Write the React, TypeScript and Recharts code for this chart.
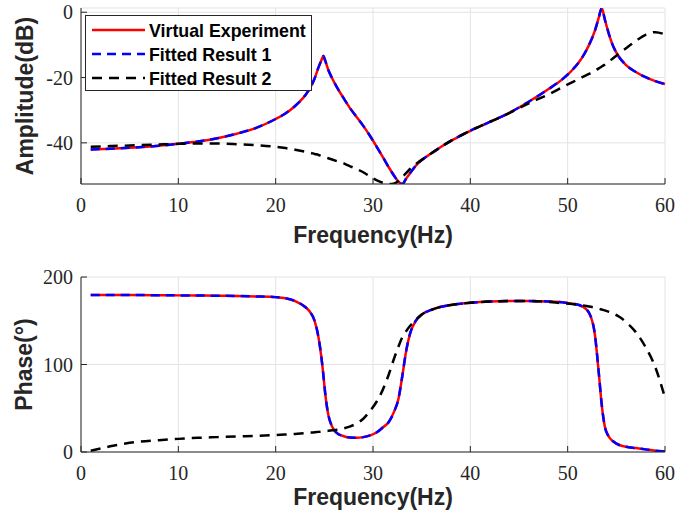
import React from "react";
import { LineChart, Line, XAxis, YAxis, CartesianGrid } from "recharts";

// frequency grid (Hz), denser around the resonances
const freq = [
  1, 3, 5, 8, 10, 12, 14, 16, 18, 20,
  21, 22, 23, 23.5, 24, 24.4, 24.7, 24.9, 25.1, 25.4,
  25.8, 26.3, 27, 27.6, 28.3, 29, 29.7, 30.4, 31, 31.6,
  32.2, 32.6, 33, 33.4, 33.8, 34.4, 35, 36, 37, 38,
  40, 42, 44, 46, 48, 49.5, 50.5, 51.5, 52.2, 52.8,
  53.2, 53.5, 53.8, 54.2, 54.7, 55.3, 56, 57, 58, 59,
  60,
];

// amplitude (dB)
const ampVirtual = [
  -42.0, -41.8, -41.5, -40.9, -40.3, -39.6, -38.6, -37.2, -35.4, -32.7,
  -31.0, -28.7, -25.6, -23.4, -20.3, -16.9, -14.7, -13.4, -14.9, -17.6,
  -20.2, -23.0, -26.4, -29.2, -32.0, -34.8, -37.9, -41.3, -44.3, -47.4,
  -50.2, -51.8, -52.6, -51.0, -49.3, -47.0, -45.3, -43.2, -41.2, -39.4,
  -36.3, -33.6, -30.8, -27.4, -23.6, -20.4, -17.6, -13.8, -10.0, -5.6,
  -1.6, 1.3, -2.0, -6.3, -10.6, -13.8, -16.2, -18.3, -19.9, -21.1,
  -22.0,
];
const ampFit1 = [
  -42.0, -41.8, -41.5, -40.9, -40.3, -39.6, -38.6, -37.2, -35.4, -32.7,
  -31.0, -28.7, -25.6, -23.4, -20.3, -16.9, -14.7, -13.4, -14.9, -17.6,
  -20.2, -23.0, -26.4, -29.2, -32.0, -34.8, -37.9, -41.3, -44.3, -47.4,
  -50.2, -51.8, -52.6, -51.0, -49.3, -47.0, -45.3, -43.2, -41.2, -39.4,
  -36.3, -33.6, -30.8, -27.4, -23.6, -20.4, -17.6, -13.8, -10.0, -5.6,
  -1.6, 1.3, -2.0, -6.3, -10.6, -13.8, -16.2, -18.3, -19.9, -21.1,
  -22.0,
];
const ampFit2 = [
  -41.2, -41.0, -40.8, -40.5, -40.3, -40.2, -40.2, -40.4, -40.7, -41.2,
  -41.6, -42.1, -42.7, -43.0, -43.4, -43.7, -44.0, -44.2, -44.4, -44.7,
  -45.1, -45.6, -46.3, -47.1, -48.0, -49.0, -50.3, -51.5, -52.2, -52.6,
  -52.4, -51.7, -50.5, -49.3, -48.0, -46.5, -45.2, -43.2, -41.2, -39.4,
  -36.3, -33.6, -30.9, -27.9, -25.2, -22.9, -21.4, -19.9, -18.9, -17.9,
  -17.2, -16.6, -16.1, -15.2, -14.0, -12.6, -11.0, -8.8, -6.9, -6.1,
  -6.8,
];

// phase (deg)
const phaseVirtual = [
  179.5, 179.5, 179.4, 179.2, 179.0, 178.8, 178.6, 178.3, 177.8, 177.0,
  175.8, 172.5, 166.0, 160.5, 150.0, 131.0, 108.0, 88.0, 66.0, 43.0,
  29.0, 21.5, 18.0, 16.5, 16.3, 17.0, 19.0, 22.5, 28.0, 34.0,
  47.0, 60.0, 86.0, 115.0, 135.0, 150.0, 157.0, 162.5, 166.0, 168.0,
  170.5, 172.0, 172.5, 172.5, 172.0, 171.0, 169.5, 166.5, 159.0, 134.0,
  90.0, 54.0, 30.0, 18.0, 12.0, 8.0, 6.0, 4.5, 3.0, 1.5,
  0.5,
];
const phaseFit1 = [
  179.5, 179.5, 179.4, 179.2, 179.0, 178.8, 178.6, 178.3, 177.8, 177.0,
  175.8, 172.5, 166.0, 160.5, 150.0, 131.0, 108.0, 88.0, 66.0, 43.0,
  29.0, 21.5, 18.0, 16.5, 16.3, 17.0, 19.0, 22.5, 28.0, 34.0,
  47.0, 60.0, 86.0, 115.0, 135.0, 150.0, 157.0, 162.5, 166.0, 168.0,
  170.5, 172.0, 172.5, 172.5, 172.0, 171.0, 169.5, 166.5, 159.0, 134.0,
  90.0, 54.0, 30.0, 18.0, 12.0, 8.0, 6.0, 4.5, 3.0, 1.5,
  0.5,
];
const phaseFit2 = [
  1.5, 6.5, 10.5, 13.5, 15.0, 16.2, 17.0, 17.8, 18.5, 19.4,
  20.0, 20.7, 21.5, 22.0, 22.5, 23.0, 23.3, 23.5, 23.8, 24.2,
  24.8, 25.5, 27.0, 29.0, 32.5, 38.0, 47.0, 58.0, 71.0, 88.0,
  108.0, 120.0, 131.0, 138.0, 144.0, 151.0, 157.0, 162.5, 166.0, 168.0,
  170.5, 172.0, 172.5, 172.5, 171.5, 170.0, 169.0, 167.5, 166.2, 164.8,
  163.8, 162.8, 161.8, 160.3, 158.3, 154.5, 148.5, 137.0, 120.0, 97.0,
  62.0,
];

const freqTicks = [0, 10, 20, 30, 40, 50, 60];
const ampTicks = [-40, -20, 0];
const phaseTicks = [0, 100, 200];

const legendItems = [
  { name: "Virtual Experiment", color: "#ff0000", dash: undefined },
  { name: "Fitted Result 1", color: "#0000ff", dash: "9 6" },
  { name: "Fitted Result 2", color: "#000000", dash: "10 7" },
];

const ampData = freq.map((f, i) => ({
  f,
  virtual: ampVirtual[i],
  fit1: ampFit1[i],
  fit2: ampFit2[i],
}));
const phaseData = freq.map((f, i) => ({
  f,
  virtual: phaseVirtual[i],
  fit1: phaseFit1[i],
  fit2: phaseFit2[i],
}));

const axisColor = "#262626";
const tickStyle = { fontFamily: "'Liberation Serif', serif", fontSize: 20, fill: axisColor };
const titleStyle = {
  fontFamily: "'Liberation Sans', Arial, sans-serif",
  fontSize: 23,
  fontWeight: 700,
  fill: axisColor,
};
const noTick = () => <g />;

interface PanelProps {
  data: typeof ampData;
  height: number;
  top: number;
  xAxisHeight: number;
  xLabelOffset: number;
  yDomain: [number, number];
  yTicks: number[];
  yLabel: string;
  yLabelOffset: number;
  children?: React.ReactNode;
}

const Panel: React.FC<PanelProps> = ({
  data,
  height,
  top,
  xAxisHeight,
  xLabelOffset,
  yDomain,
  yTicks,
  yLabel,
  yLabelOffset,
  children,
}) => (
  <div style={{ position: "relative", width: 675, height }}>
    <LineChart
      width={675}
      height={height}
      data={data}
      margin={{ top, right: 10, left: 0, bottom: 0 }}
    >
      <CartesianGrid stroke="#e3e3e3" strokeWidth={1} />
      <XAxis
        dataKey="f"
        type="number"
        domain={[0, 60]}
        ticks={freqTicks}
        interval={0}
        height={xAxisHeight}
        stroke={axisColor}
        tickSize={-6}
        tickMargin={20}
        tick={tickStyle}
        label={{ value: "Frequency(Hz)", position: "insideBottom", offset: xLabelOffset, style: titleStyle }}
      />
      <XAxis
        xAxisId="top"
        orientation="top"
        dataKey="f"
        type="number"
        domain={[0, 60]}
        ticks={freqTicks}
        interval={0}
        height={0}
        stroke={axisColor}
        tickSize={-6}
        tick={noTick}
      />
      <YAxis
        type="number"
        domain={yDomain}
        ticks={yTicks}
        interval={0}
        width={81}
        stroke={axisColor}
        tickSize={-6}
        tickMargin={14}
        tick={tickStyle}
        allowDataOverflow
        label={{
          value: yLabel,
          angle: -90,
          position: "insideLeft",
          offset: yLabelOffset,
          style: { ...titleStyle, textAnchor: "middle" },
        }}
      />
      <YAxis
        yAxisId="right"
        orientation="right"
        type="number"
        domain={yDomain}
        ticks={yTicks}
        interval={0}
        width={0}
        stroke={axisColor}
        tickSize={-6}
        tick={noTick}
        allowDataOverflow
      />
      <Line type="monotone" dataKey="virtual" stroke="#ff0000" strokeWidth={2.5} dot={false} isAnimationActive={false} />
      <Line type="monotone" dataKey="fit1" stroke="#0000ff" strokeWidth={2.5} strokeDasharray="9 6" dot={false} isAnimationActive={false} />
      <Line type="monotone" dataKey="fit2" stroke="#000000" strokeWidth={2.5} strokeDasharray="10 7" dot={false} isAnimationActive={false} />
    </LineChart>
    {children}
  </div>
);

const LegendBox = () => (
  <svg
    width={227}
    height={76}
    style={{ position: "absolute", left: 85, top: 15, background: "#fff" }}
  >
    <rect x={0.5} y={0.5} width={226} height={75} fill="#fff" stroke={axisColor} strokeWidth={1} />
    {legendItems.map((item, i) => {
      const cy = 15 + i * 24;
      return (
        <g key={item.name}>
          <line x1={7} x2={60} y1={cy} y2={cy} stroke={item.color} strokeWidth={2.5} strokeDasharray={item.dash} />
          <text
            x={64}
            y={cy + 6.5}
            style={{ fontFamily: "'Liberation Sans', Arial, sans-serif", fontSize: 17.8, fontWeight: 700 }}
            fill="#000"
          >
            {item.name}
          </text>
        </g>
      );
    })}
  </svg>
);

export default function App() {
  return (
    <div style={{ position: "absolute", left: 0, top: 0, width: 675, height: 522, background: "#fff" }}>
      <Panel
        data={ampData}
        height={260}
        top={8}
        xAxisHeight={76}
        xLabelOffset={17}
        yDomain={[-52.6, 1.3]}
        yTicks={ampTicks}
        yLabel="Amplitude(dB)"
        yLabelOffset={24.5}
      >
        <LegendBox />
      </Panel>
      <Panel
        data={phaseData}
        height={262}
        top={17}
        xAxisHeight={70}
        xLabelOffset={17}
        yDomain={[0, 200]}
        yTicks={phaseTicks}
        yLabel="Phase(°)"
        yLabelOffset={24}
      />
    </div>
  );
}
